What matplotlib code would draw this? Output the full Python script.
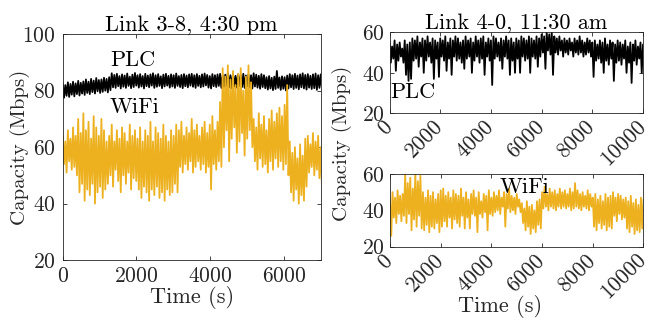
import numpy as np
import matplotlib
matplotlib.use("Agg")
import matplotlib.pyplot as plt

plt.rcParams['font.family'] = 'serif'
plt.rcParams['font.serif'] = ['cmr10']
plt.rcParams['mathtext.fontset'] = 'cm'
plt.rcParams['axes.formatter.use_mathtext'] = True
plt.rcParams['font.size'] = 15

# ---- data: upper / lower edge of each noisy trace ----
# left panel, link 3-8, one pair every 70 s (0..7000 s)
left_step = 70
plc_left_hi = [82.5, 82.0, 83.0, 82.4, 83.2, 82.6, 83.5, 82.8, 83.3, 84.0,
               83.2, 84.2, 83.6, 84.5, 83.8, 84.0, 84.6, 84.2, 84.8, 86.2,
               85.6, 86.0, 85.2, 85.8, 85.4, 86.1, 85.0, 85.7, 86.3, 85.5,
               85.9, 85.2, 86.0, 85.4, 85.8, 86.2, 85.5, 85.9, 85.1, 85.7,
               86.0, 85.3, 85.8, 85.5, 86.1, 85.2, 85.6, 85.9, 85.4, 85.8,
               86.0, 85.5, 85.9, 85.3, 85.8, 86.1, 85.6, 85.2, 85.9, 85.5,
               85.8, 86.0, 85.4, 85.7, 86.2, 85.5, 85.9, 85.3, 85.8, 85.6,
               86.0, 85.4, 85.8, 85.5, 86.2, 85.7, 85.3, 85.9, 85.5, 84.8,
               85.2, 84.6, 85.0, 87.0, 84.7, 85.1, 84.8, 85.4, 85.9, 85.5,
               86.0, 85.4, 85.8, 86.2, 85.6, 85.9, 85.3, 85.8, 86.1, 85.5, 85.8]
plc_left_lo = [77.5, 78.2, 77.8, 78.6, 78.0, 78.8, 78.3, 79.0, 78.5, 79.2,
               78.8, 79.5, 79.0, 79.8, 79.2, 79.6, 80.0, 79.4, 80.2, 81.2,
               81.0, 81.6, 80.8, 81.4, 81.0, 81.7, 80.9, 81.3, 81.8, 81.1,
               81.5, 80.8, 81.6, 81.2, 81.8, 81.0, 81.4, 81.7, 80.9, 81.5,
               81.8, 81.1, 81.5, 81.0, 81.7, 81.3, 80.9, 81.6, 81.2, 81.8,
               81.4, 81.0, 81.7, 81.2, 81.5, 81.9, 81.1, 80.8, 81.6, 81.3,
               81.7, 81.0, 81.4, 81.8, 81.2, 80.9, 81.5, 81.1, 81.7, 81.3,
               81.0, 81.6, 81.2, 80.8, 81.5, 81.1, 80.7, 81.3, 80.9, 80.4,
               80.8, 80.2, 80.6, 81.0, 80.3, 80.7, 80.1, 80.8, 81.2, 80.6,
               81.0, 80.5, 81.2, 80.8, 80.4, 81.1, 80.6, 80.9, 80.3, 81.0, 80.7]
wifi_left_hi = [64, 62, 66, 63, 67, 64,
                70, 65, 72, 66, 69, 63, 71, 67, 64, 70, 66, 62,
                64, 68, 62, 66, 63, 67, 65, 62, 68, 64, 66,
                63, 67, 62, 66, 64, 69, 62, 67, 65, 63, 68, 64, 62, 66, 64, 68,
                66, 69, 64, 67, 65, 70, 66, 68, 64, 67, 69, 65, 68, 71, 66, 69, 76,
                88, 85, 89, 84, 87, 82, 86, 88, 80, 85, 89, 83,
                70, 67, 72, 68, 71, 66, 70, 73, 69, 72, 74, 71, 75,
                82,
                62, 58, 60, 56, 61, 57, 63,
                64, 61, 65, 62, 64, 60]
wifi_left_lo = [54, 51, 55, 52, 53, 50,
                44, 47, 41, 45, 43, 47, 40, 44, 46, 42, 45, 47,
                50, 46, 52, 48, 44, 50, 47, 51, 45, 49, 48,
                45, 42, 46, 44, 41, 45, 43, 46, 42, 44, 41, 45, 43, 44, 47, 44,
                53, 51, 54, 52, 55, 51, 53, 55, 52, 54, 51, 53, 45, 54, 52, 55, 53,
                60, 66, 55, 63, 67, 58, 62, 65, 57, 63, 66, 60,
                55, 52, 56, 53, 54, 51, 55, 52, 56, 53, 55, 52, 54,
                50,
                44, 41, 45, 40, 43, 41, 46,
                51, 53, 50, 52, 49, 45]

# right panels, link 4-0, one pair every 100 s (0..10000 s)
right_step = 100
plc_right_hi = [55, 53, 56, 54, 55, 52, 56, 54, 55, 57,
                56, 58, 55, 57, 56, 58, 55, 57, 56, 55,
                57, 56, 58, 55, 57, 56, 58, 57, 55, 56,
                58, 56, 57, 55, 58, 56, 57, 58, 55, 57,
                56, 58, 57, 55, 57, 56, 58, 56, 57, 55,
                57, 56, 58, 57, 56, 58, 57, 56, 58, 57,
                59, 58, 60, 59, 60, 58, 57, 58, 56, 57,
                56, 57, 55, 57, 56, 58, 56, 55, 57, 56,
                55, 56, 54, 56, 55, 57, 54, 56, 55, 54,
                56, 55, 54, 56, 53, 55, 54, 56, 53, 55, 54]
plc_right_lo = [45, 47, 41, 46, 48, 45, 39, 36, 37, 46,
                47, 43, 48, 40, 46, 48, 45, 37, 47, 38,
                48, 46, 41, 47, 39, 48, 46, 47, 45, 42,
                47, 48, 40, 46, 48, 45, 47, 39, 48, 46,
                34, 47, 48, 46, 42, 48, 47, 39, 46, 40,
                47, 40, 48, 46, 47, 40, 48, 47, 43, 48,
                50, 42, 51, 49, 39, 50, 49, 51, 48, 50,
                49, 51, 48, 50, 49, 50, 48, 49, 50, 48,
                38, 46, 47, 45, 40, 46, 44, 47, 36, 45,
                46, 44, 47, 40, 45, 35, 46, 44, 47, 40, 45]
wifi_right_hi = [46, 50, 47, 51, 48, 49,
                 60, 55, 58, 52, 61, 56, 59,
                 50, 47, 51, 48, 50, 46, 49, 51,
                 52, 48, 50, 47, 51, 49, 48, 52, 47,
                 50, 46, 49, 51, 47, 50, 45, 49, 48, 51, 47, 50,
                 48, 51, 47, 50, 49, 52, 48, 47, 49, 46,
                 44, 41, 45, 42, 43, 40, 45, 46,
                 50, 53, 49, 52, 50, 51, 49, 52, 50,
                 51, 49, 52, 50, 55, 51, 49, 50, 48, 51, 49,
                 47, 49, 46, 48, 45, 49, 47, 48,
                 50, 47, 49, 48, 46,
                 47, 45, 48, 44, 46, 43, 47, 46]
wifi_right_lo = [26, 36, 33, 38, 34, 37,
                 33, 38, 29, 35, 31, 37, 30,
                 29, 32, 28, 31, 30, 33, 28, 31,
                 34, 31, 36, 30, 35, 33, 31, 37, 30,
                 36, 30, 38, 37, 28, 38, 36, 39, 29, 38, 37, 39,
                 40, 38, 42, 31, 41, 39, 40, 38, 42, 39,
                 33, 29, 31, 27, 30, 28, 32, 30,
                 41, 42, 40, 42, 41, 40, 42, 41, 42,
                 41, 42, 40, 41, 42, 41, 40, 42, 41, 40, 42,
                 31, 29, 33, 30, 32, 29, 31, 30,
                 37, 34, 38, 35, 36,
                 30, 28, 31, 27, 29, 28, 30, 45]

wifi_color = '#EDB120'
ax_color = '#262626'
trace_lw = 1.3


def trace(hi, lo, step):
    # every sample goes to its upper edge, then half a step later to its lower edge
    t = np.arange(len(hi)) * step
    x = np.column_stack([t, t + step / 2]).ravel()
    y = np.column_stack([hi, lo]).ravel()
    return x, y


def style(ax):
    for s in ax.spines.values():
        s.set_color(ax_color)
        s.set_linewidth(0.6)
    ax.tick_params(direction='in', top=True, right=True, length=3,
                   width=0.6, colors=ax_color, labelcolor=ax_color,
                   labelsize=15.5)


fig = plt.figure(figsize=(6.54, 3.2), dpi=100)

# left panel
ax1 = fig.add_axes([0.0959, 0.1875, 0.3945, 0.7053])
ax1.plot(*trace(plc_left_hi, plc_left_lo, left_step), color='black', lw=trace_lw)
ax1.plot(*trace(wifi_left_hi, wifi_left_lo, left_step), color=wifi_color, lw=trace_lw)
ax1.set_xlim(0, 7000)
ax1.set_ylim(20, 100)
ax1.set_xticks([0, 2000, 4000, 6000])
ax1.set_yticks([20, 40, 60, 80, 100])
style(ax1)
ax1.tick_params(axis='x', pad=5)
ax1.tick_params(axis='y', pad=5)
ax1.set_title('Link 3-8, 4:30 pm', fontsize=16, pad=3)
ax1.set_xlabel('Time (s)', fontsize=16, labelpad=0, color=ax_color)
ax1.set_ylabel('Capacity (Mbps)', fontsize=15, color=ax_color)
ax1.yaxis.set_label_coords(-0.127, 0.5)
ax1.text(1907, 90.8, 'PLC', ha='center', va='center', fontsize=16)
ax1.text(1935, 74.2, 'WiFi', ha='center', va='center', fontsize=16)

# right top panel
ax2 = fig.add_axes([0.5956, 0.6459, 0.3876, 0.2531])
ax2.plot(*trace(plc_right_hi, plc_right_lo, right_step), color='black', lw=trace_lw)
ax2.set_xlim(0, 10000)
ax2.set_ylim(20, 60)
ax2.set_xticks(np.arange(0, 10001, 2000))
ax2.set_yticks([20, 40, 60])
style(ax2)
ax2.set_title('Link 4-0, 11:30 am', fontsize=16, pad=3)
ax2.text(30, 30.3, 'PLC', ha='left', va='center', fontsize=16)

# right bottom panel
ax3 = fig.add_axes([0.5963, 0.2291, 0.3876, 0.2272])
ax3.plot(*trace(wifi_right_hi, wifi_right_lo, right_step), color=wifi_color, lw=trace_lw)
ax3.set_xlim(0, 10000)
ax3.set_ylim(20, 60)
ax3.set_xticks(np.arange(0, 10001, 2000))
ax3.set_yticks([20, 40, 60])
style(ax3)
ax3.text(5294, 52.6, 'WiFi', ha='center', va='center', fontsize=16)

for ax in (ax2, ax3):
    for lab in ax.get_xticklabels():
        lab.set_rotation(45)
        lab.set_ha('right')
        lab.set_va('center')
        lab.set_rotation_mode('anchor')
    ax.tick_params(axis='x', pad=8)

fig.text(500 / 654, 1 - 306 / 320, 'Time (s)', ha='center', va='center',
         fontsize=16, color=ax_color)
fig.text(342 / 654, 1 - 143 / 320, 'Capacity (Mbps)', ha='center', va='center',
         rotation=90, fontsize=15, color=ax_color)

fig.savefig('out.png', dpi=100)
